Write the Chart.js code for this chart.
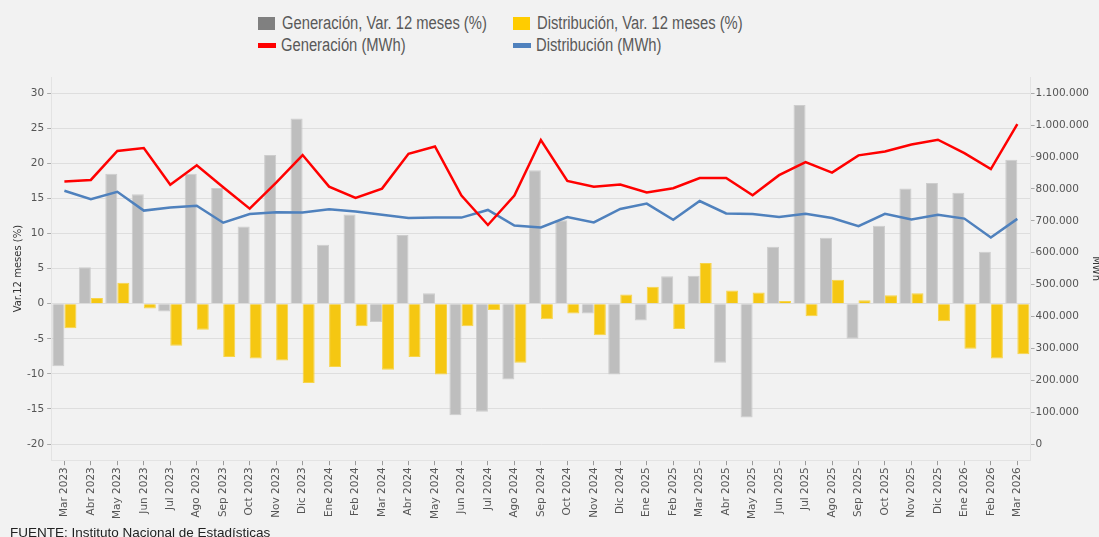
<!DOCTYPE html>
<html>
<head>
<meta charset="utf-8">
<script src="https://cdn.jsdelivr.net/npm/chart.js@4.4.1/dist/chart.umd.min.js"></script>
<style>
  body { margin: 0; background: #f2f2f2; width: 1099px; height: 537px; overflow: hidden; position: relative;
         font-family: "Liberation Sans", sans-serif; }
  #wrap { position: absolute; left: 0; top: 0; width: 1106px; height: 537px; }
  #legend { position: absolute; left: 258px; top: 12px; display: grid; grid-template-columns: 255px 255px;
            font-size: 18px; color: #595959; }
  .item { display: flex; align-items: center; height: 22px; white-space: nowrap; }
  .item span.txt { display: inline-block; transform: scaleX(0.82); transform-origin: left center; }
  .box { flex-shrink: 0; width: 17px; height: 13px; margin-right: 7px; }
  .line { flex-shrink: 0; width: 18px; height: 5px; margin-right: 5px; }
  #source { position: absolute; left: 10px; top: 525px; font-size: 13.5px; color: #222; white-space: nowrap; }
</style>
</head>
<body>
<div id="legend">
  <div class="item"><span class="box" style="background:#808080"></span><span class="txt">Generación, Var. 12 meses (%)</span></div>
  <div class="item"><span class="box" style="background:#ffcc00"></span><span class="txt">Distribución, Var. 12 meses (%)</span></div>
  <div class="item"><span class="line" style="background:#ff0000"></span><span class="txt">Generación (MWh)</span></div>
  <div class="item"><span class="line" style="background:#4f81bd"></span><span class="txt">Distribución (MWh)</span></div>
</div>
<div id="wrap"><canvas id="chart" width="1106" height="537"></canvas></div>
<div id="source">FUENTE: Instituto Nacional de Estadísticas</div>
<script>
const labels = ["Mar 2023", "Abr 2023", "May 2023", "Jun 2023", "Jul 2023", "Ago 2023", "Sep 2023", "Oct 2023",
  "Nov 2023", "Dic 2023", "Ene 2024", "Feb 2024", "Mar 2024", "Abr 2024", "May 2024", "Jun 2024", "Jul 2024",
  "Ago 2024", "Sep 2024", "Oct 2024", "Nov 2024", "Dic 2024", "Ene 2025", "Feb 2025", "Mar 2025", "Abr 2025",
  "May 2025", "Jun 2025", "Jul 2025", "Ago 2025", "Sep 2025", "Oct 2025", "Nov 2025", "Dic 2025", "Ene 2026",
  "Feb 2026", "Mar 2026"];

// variacion 12 meses (%)
const genVar = [-8.9, 5.2, 18.5, 15.6, -1.1, 18.5, 16.5, 11.0, 21.2, 26.4, 8.4, 12.7,
  -2.6, 9.8, 1.5, -15.9, -15.4, -10.8, 19.0, 11.9, -1.4, -10.1, -2.4, 3.9,
  4.0, -8.4, -16.2, 8.1, 28.3, 9.4, -5.0, 11.1, 16.4, 17.2, 15.8, 7.4, 20.5];
const distVar = [-3.5, 0.8, 3.0, -0.7, -6.0, -3.7, -7.6, -7.8, -8.1, -11.3, -9.0, -3.2,
  -9.4, -7.6, -10.1, -3.2, -0.9, -8.4, -2.2, -1.4, -4.5, 1.3, 2.4, -3.6,
  5.8, 1.9, 1.6, 0.4, -1.8, 3.4, 0.5, 1.2, 1.5, -2.5, -6.4, -7.8, -7.2];

// MWh
const genMWh = [823000, 828000, 919000, 928000, 813000, 874000, 805000, 738000, 820000, 906000, 807000, 772000,
  801000, 910000, 933000, 779000, 687000, 779000, 953000, 825000, 807000, 814000, 789000, 802000,
  834000, 834000, 780000, 843000, 884000, 851000, 905000, 917000, 939000, 954000, 912000, 862000, 1003000];
const distMWh = [794000, 768000, 791000, 732000, 742000, 747000, 694000, 721000, 727000, 726000, 736000, 729000,
  719000, 709000, 710000, 710000, 734000, 685000, 679000, 712000, 695000, 737000, 754000, 703000,
  762000, 723000, 721000, 712000, 722000, 709000, 683000, 722000, 704000, 719000, 707000, 648000, 706000];

const leftTicks = [-20, -15, -10, -5, 0, 5, 10, 15, 20, 25, 30];
const rightTicks = [0, 100000, 200000, 300000, 400000, 500000, 600000, 700000, 800000, 900000, 1000000, 1100000];

const tickFont = { family: "DejaVu Sans", size: 10.5 };
const fmt = v => String(v).replace(/\B(?=(\d{3})+(?!\d))/g, ".");

const ctx = document.getElementById("chart").getContext("2d");
new Chart(ctx, {
  type: "bar",
  data: {
    labels: labels,
    datasets: [
      { type: "line", label: "Generación (MWh)", data: genMWh, yAxisID: "y1", borderColor: "#ff0000",
        borderWidth: 2.5, pointRadius: 0, tension: 0, order: 0 },
      { type: "line", label: "Distribución (MWh)", data: distMWh, yAxisID: "y1", borderColor: "#4f81bd",
        borderWidth: 2.5, pointRadius: 0, tension: 0, order: 0 },
      { label: "Generación, Var. 12 meses (%)", data: genVar, yAxisID: "y", backgroundColor: "#bebebe",
        borderColor: "#cdcdcd", borderWidth: 1, order: 1 },
      { label: "Distribución, Var. 12 meses (%)", data: distVar, yAxisID: "y", backgroundColor: "#f5c712",
        borderColor: "#f7d44a", borderWidth: 1, order: 1 }
    ]
  },
  options: {
    responsive: false,
    animation: false,
    layout: { padding: { top: 77, left: 12, right: 0, bottom: 16 } },
    datasets: { bar: { barPercentage: 1, categoryPercentage: 0.91 } },
    plugins: { legend: { display: false }, tooltip: { enabled: false } },
    scales: {
      x: {
        grid: { drawOnChartArea: false, offset: false, tickLength: 5, tickColor: "#999" },
        border: { color: "#e3e3e3" },
        ticks: { autoSkip: false, maxRotation: 90, minRotation: 90, color: "#555", font: tickFont, padding: 2 }
      },
      y: {
        position: "left",
        min: -22.3, max: 32.3,
        afterBuildTicks: axis => { axis.ticks = leftTicks.map(v => ({ value: v })); },
        grid: { color: "#dedede", tickLength: 4, tickColor: "#aaa" },
        border: { color: "#e3e3e3" },
        ticks: { color: "#555", font: tickFont, padding: 3 },
        title: { display: true, text: "Var.12 meses (%)", color: "#333", padding: 0,
                 font: { family: "DejaVu Sans", size: 10 } }
      },
      y1: {
        position: "right",
        min: -50160, max: 1150600,
        afterBuildTicks: axis => { axis.ticks = rightTicks.map(v => ({ value: v })); },
        grid: { drawOnChartArea: false, tickLength: 4, tickColor: "#aaa" },
        border: { color: "#e3e3e3" },
        ticks: { color: "#555", font: tickFont, padding: 1, callback: v => fmt(v) },
        title: { display: true, text: "MWh", color: "#333", padding: { top: 4, bottom: 0 },
                 font: { family: "DejaVu Sans", size: 10 } }
      }
    }
  }
});
</script>
</body>
</html>
